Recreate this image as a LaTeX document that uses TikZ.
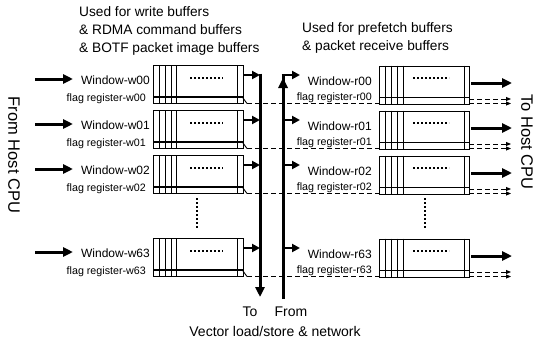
\documentclass[tikz,border=0pt]{standalone}
\usepackage{fontspec}
\setmainfont{Liberation Sans}
\usetikzlibrary{arrows.meta,calc}
\begin{document}
\begin{tikzpicture}[x=1pt,y=-1pt,
  font=\fontsize{12}{14}\selectfont,
  bigarr/.style={line width=3pt,-{Triangle[length=10pt,width=9pt]}},
  medarr/.style={line width=2.5pt,-{Triangle[length=8pt,width=8pt]}},
  boxline/.style={line width=0.9pt},
  bufbox/.style={draw,line width=1.1pt,minimum width=90pt,minimum height=38pt,inner sep=0pt,anchor=north west},
  dashline/.style={line width=0.9pt,dash pattern=on 5pt off 3pt},
  dasharr/.style={dashline,-{Triangle[length=5pt,width=4pt]}},
  lab/.style={inner sep=0pt,anchor=east},
  flaglab/.style={inner sep=0pt,anchor=east,font=\fontsize{10.7}{12}\selectfont},
  hdots/.style={line width=1.6pt,dash pattern=on 1.6pt off 2.4pt},
  vdots/.style={line width=2.2pt,dash pattern=on 2pt off 2pt},
  hdr/.style={anchor=west,align=left,inner sep=0pt,font=\fontsize{13.7}{18}\selectfont},
  side/.style={rotate=-90,inner sep=0pt,font=\fontsize{16.5}{20}\selectfont},
  bot/.style={inner sep=0pt,font=\fontsize{14}{17}\selectfont},
]
\useasboundingbox (0,0) rectangle (543,345);

% headers
\node[hdr] (hl) at (79,31) {Used for write buffers\\\& RDMA command buffers\\\& BOTF packet image buffers};
\node[hdr] (hr) at (302,38) {Used for prefetch buffers\\\& packet receive buffers};

% side texts
\node[side] (fromhost) at (14,155) {From Host CPU};
\node[side] (tohost) at (527,142) {To Host CPU};

% bottom texts
\node[bot] (to) at (250,312) {To};
\node[bot] (from) at (291,312) {From};
\node[bot] (vec) at (275,331) {Vector load/store \& network};

% vertical buses
\coordinate (dtop) at (260,73.5);
\coordinate (dbot) at (260,297);
\draw[bigarr] (dtop) -- (dbot);
\coordinate (ubot) at (283,299);
\coordinate (utop) at (283,75);
\coordinate (uright) at (300,75);
\draw[line width=3pt] (ubot) -- (utop);
\draw[medarr] ([xshift=-1.5pt]utop) -- (uright);
\fill (278,88) -- (288,88) -- (283,78) -- cycle;

% dots between rows
\draw[vdots] (197,198) -- (197,228);
\draw[vdots] (425,198) -- (425,228);

\foreach \id/\a in {00/75,01/120,02/165,63/248}{
  % left buffer
  \node[bufbox] (wb\id) at (153,\a-10) {};
  \foreach \xx in {159.5,165.7,171.2,176.7,237.5}
    \draw[boxline] (\xx,\a-10) -- (\xx,\a+28);
  \draw[line width=1.8pt] (153,\a+22) -- (243,\a+22);
  \draw[hdots] (190,\a+3) -- (223,\a+3);
  \node[lab] (wl\id) at (150,\a+5) {Window-w\id};
  \node[flaglab] (fl\id) at (146,\a+24) {flag register-w\id};
  \coordinate (src\id) at (35,\a+4);
  \coordinate (srce\id) at (73,\a+4);
  \draw[bigarr] (src\id) -- (srce\id);
  \coordinate (wo\id) at (243,\a);
  \coordinate (wi\id) at (260,\a);
  \draw[medarr] (wo\id) -- (wi\id);
  % right buffer
  \node[bufbox] (rb\id) at (379,\a-9.5) {};
  \foreach \xx in {385,391.5,397.3,403.3,464.3}
    \draw[boxline] (\xx,\a-9.5) -- (\xx,\a+28.5);
  \draw[line width=1.8pt] (379,\a+22.5) -- (469,\a+22.5);
  \draw[hdots] (413,\a+3) -- (449,\a+3);
  \node[lab] (rl\id) at (372,\a+6) {Window-r\id};
  \node[flaglab] (rfl\id) at (372,\a+23) {flag register-r\id};
  % flag dashed link
  \coordinate (fa\id) at (243,\a+23);
  \coordinate (fb\id) at (247,\a+28.5);
  \coordinate (fc\id) at (379,\a+28.5);
  \draw[boxline] (fa\id) -- (fb\id);
  \draw[dashline] (fb\id) -- (fc\id);
  % outputs
  \coordinate (ro\id) at (471,\a+8);
  \coordinate (re\id) at (512,\a+8);
  \draw[bigarr] (ro\id) -- (re\id);
  \coordinate (da\id) at (469,\a+24);
  \coordinate (db\id) at (511,\a+24);
  \coordinate (dc\id) at (469,\a+28.5);
  \coordinate (dd\id) at (511,\a+28.5);
  \draw[dasharr] (da\id) -- (db\id);
  \draw[dasharr] (dc\id) -- (dd\id);
}
\foreach \id/\a in {01/120,02/165,63/248}{
  \coordinate (ui\id) at (283,\a);
  \coordinate (uo\id) at (300,\a);
  \draw[medarr] (ui\id) -- (uo\id);
}
\end{tikzpicture}
\end{document}
